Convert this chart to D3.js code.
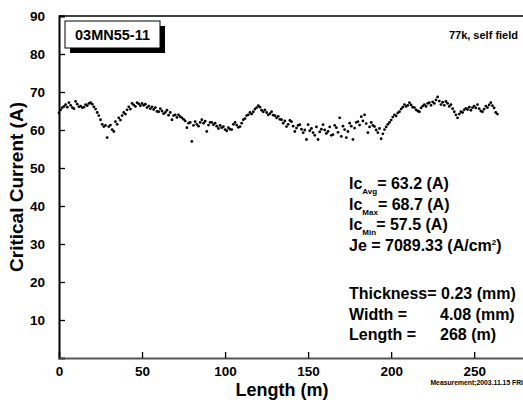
<!DOCTYPE html>
<html><head><meta charset="utf-8">
<script src="https://cdn.jsdelivr.net/npm/d3@7"></script>
<style>
html,body{margin:0;padding:0;background:#fff;}
svg{display:block;}
text{font-family:"Liberation Sans",Arial,Helvetica,sans-serif;font-weight:bold;fill:#000;}
</style></head>
<body>
<svg id="chart" width="523" height="403"></svg>
<script>
// Data: critical current (A) sampled every 1 m of length, starting at 0 m
const lengthStart = 0;
const lengthStep = 1;
const currentValues = [
  64.5, 65.3, 65.9, 66.2, 66.7, 66.0, 67.2, 66.5, 65.9, 65.6,
  67.5, 66.8, 66.1, 66.3, 65.9, 66.0, 66.7, 66.4, 67.0, 67.2,
  66.8, 66.1, 65.5, 64.6, 63.8, 62.7, 61.5, 60.9, 61.2, 58.0,
  60.9, 61.3, 60.1, 59.6, 62.2, 61.5, 63.2, 62.6, 63.8, 64.6,
  64.2, 65.3, 66.1, 65.5, 67.0, 66.6, 66.2, 67.2, 66.9, 66.4,
  67.0, 66.5, 66.8, 65.9, 66.3, 65.6, 66.1, 65.4, 65.9, 64.9,
  64.8, 65.6, 65.0, 64.3, 64.6, 65.2, 63.9, 64.6, 62.7, 63.8,
  64.0, 63.3, 64.0, 63.5, 63.2, 62.8, 62.4, 60.6, 61.8, 62.0,
  57.0, 61.2, 62.2, 61.5, 61.0, 62.0, 62.7, 61.8, 62.3, 59.6,
  61.3, 62.0, 62.0, 61.4, 61.8, 61.0, 60.4, 61.2, 60.6, 60.9,
  60.1, 59.8, 60.6, 60.2, 60.1, 61.5, 62.0, 61.3, 60.7, 60.9,
  61.8, 62.7, 63.0, 63.8, 64.0, 64.6, 64.2, 64.8, 65.5, 65.9,
  66.4, 66.0, 65.2, 64.8, 65.3, 64.6, 64.0, 64.3, 64.8, 63.9,
  63.8, 63.2, 63.6, 62.8, 62.7, 61.8, 62.4, 60.9, 61.5, 62.5,
  62.2, 61.0, 59.6, 60.5, 61.2, 61.4, 60.2, 59.3, 60.0, 57.5,
  61.4, 59.8, 60.4, 59.3, 58.6, 60.8, 57.5, 59.5, 60.2, 61.4,
  60.0, 59.1, 59.6, 60.8, 58.6, 58.8, 61.2, 60.6, 59.4, 63.2,
  58.3, 61.0, 60.1, 58.0, 59.6, 61.8, 61.0, 57.5, 60.5, 62.0,
  62.2, 61.3, 63.5, 62.4, 64.0, 61.7, 59.3, 60.8, 62.0, 61.2,
  60.9, 60.0, 59.3, 60.4, 57.7, 59.0, 60.1, 60.8, 61.5, 62.0,
  62.6, 63.4, 64.0, 63.7, 64.5, 64.8, 65.5, 66.0, 66.7, 66.2,
  66.5, 67.2, 66.6, 66.0, 65.9, 65.3, 65.0, 64.8, 65.8, 66.3,
  66.7, 66.2, 67.0, 67.2, 66.5, 67.4, 67.0, 67.9, 68.7, 67.6,
  66.7, 67.3, 66.5, 67.5, 67.0, 66.2, 66.7, 65.6, 64.8, 64.0,
  63.2, 64.2, 64.8, 64.6, 65.3, 65.7, 65.4, 66.0, 65.2, 65.9,
  66.3, 65.8, 66.7, 65.6, 65.0, 64.8, 65.5, 66.3, 65.9, 66.6,
  67.2, 66.4, 65.8, 64.6, 64.2
];
const xTicks = [0, 50, 100, 150, 200, 250];
const yTicks = [10, 20, 30, 40, 50, 60, 70, 80, 90];
const sampleName = "03MN55-11";
const conditionText = "77k, self field";
const statLines = [
  {main: "Ic", sub: "Avg", rest: "= 63.2 (A)"},
  {main: "Ic", sub: "Max", rest: "= 68.7 (A)"},
  {main: "Ic", sub: "Min", rest: "= 57.5 (A)"}
];
const jeText = "Je = 7089.33 (A/cm";
const dimLabels = ["Thickness=", "Width =", "Length ="];
const dimValues = ["0.23 (mm)", "4.08 (mm)", "268 (m)"];
const footnote = "Measurement;2003.11.15 FRI";

const points = currentValues.map((v, i) => ({x: lengthStart + i * lengthStep, y: v}));

const svg = d3.select("#chart");
const x = d3.scaleLinear().domain([0, 280]).range([59, 524]);
const y = d3.scaleLinear().domain([0, 90]).range([358, 16]);

// y axis (ticks inside)
const yAxis = d3.axisLeft(y).tickValues(yTicks).tickSize(-6).tickPadding(14).tickFormat(d3.format("d"));
const gy = svg.append("g").attr("transform", `translate(${x(0)},0)`).call(yAxis);
gy.select(".domain").attr("stroke", "#000").attr("stroke-width", 2);
gy.selectAll(".tick line").attr("stroke", "#000").attr("stroke-width", 1.3);
gy.selectAll(".tick text").style("font-size", "13.5px").attr("dy", "0.36em");

// x axis (ticks inside)
const xAxis = d3.axisBottom(x).tickValues(xTicks).tickSize(-6).tickPadding(8).tickFormat(d3.format("d"));
const gx = svg.append("g").attr("transform", `translate(0,${y(0)})`).call(xAxis);
gx.select(".domain").attr("stroke", "#555").attr("stroke-width", 2);
gx.selectAll(".tick line").attr("stroke", "#000").attr("stroke-width", 1.3);
gx.selectAll(".tick text").style("font-size", "13.5px");

// top border
svg.append("line").attr("x1", x(0)).attr("x2", 523).attr("y1", y(90)).attr("y2", y(90))
  .attr("stroke", "#000").attr("stroke-width", 1.5);

// data points
svg.append("g").selectAll("circle").data(points).join("circle")
  .attr("cx", d => x(d.x)).attr("cy", d => y(d.y)).attr("r", 1.4).attr("fill", "#000");

// axis titles
svg.append("text").attr("transform", `translate(23,${(y(0)+y(90))/2}) rotate(-90)`)
  .attr("text-anchor", "middle").style("font-size", "19px").text("Critical Current (A)");
svg.append("text").attr("x", 282).attr("y", 396).attr("text-anchor", "middle")
  .style("font-size", "18px").text("Length (m)");

// sample label box with shadow
svg.append("rect").attr("x", 70).attr("y", 26).attr("width", 95).attr("height", 27).attr("fill", "#000");
svg.append("rect").attr("x", 65).attr("y", 21).attr("width", 95).attr("height", 27)
  .attr("fill", "#fff").attr("stroke", "#000").attr("stroke-width", 1);
svg.append("text").attr("x", 112.5).attr("y", 40).attr("text-anchor", "middle")
  .style("font-size", "14.5px").text(sampleName);

svg.append("text").attr("x", 518).attr("y", 39).attr("text-anchor", "end")
  .style("font-size", "11px").text(conditionText);

// statistics
const ax = 349;
const fs = "16px";
statLines.forEach((s, i) => {
  const t = svg.append("text").attr("x", ax).attr("y", 189 + i * 20.5).style("font-size", fs);
  t.append("tspan").text(s.main);
  t.append("tspan").attr("dy", 5).style("font-size", "8px").text(s.sub);
  t.append("tspan").attr("dy", -5).text(s.rest);
});
const je = svg.append("text").attr("x", ax).attr("y", 189 + 3 * 20.5).style("font-size", fs);
je.append("tspan").text(jeText);
je.append("tspan").attr("dy", -6).style("font-size", "8px").text("2");
je.append("tspan").attr("dy", 6).text(")");

dimLabels.forEach((lab, i) => {
  const yy = 299 + i * 20.5;
  if (i === 0) {
    svg.append("text").attr("x", ax).attr("y", yy).style("font-size", fs).text(lab + " " + dimValues[i]);
  } else {
    svg.append("text").attr("x", ax).attr("y", yy).style("font-size", fs).text(lab);
    svg.append("text").attr("x", 440).attr("y", yy).style("font-size", fs).text(dimValues[i]);
  }
});

svg.append("text").attr("x", 523).attr("y", 385).attr("text-anchor", "end")
  .style("font-size", "6.8px").text(footnote);
</script>
</body></html>
